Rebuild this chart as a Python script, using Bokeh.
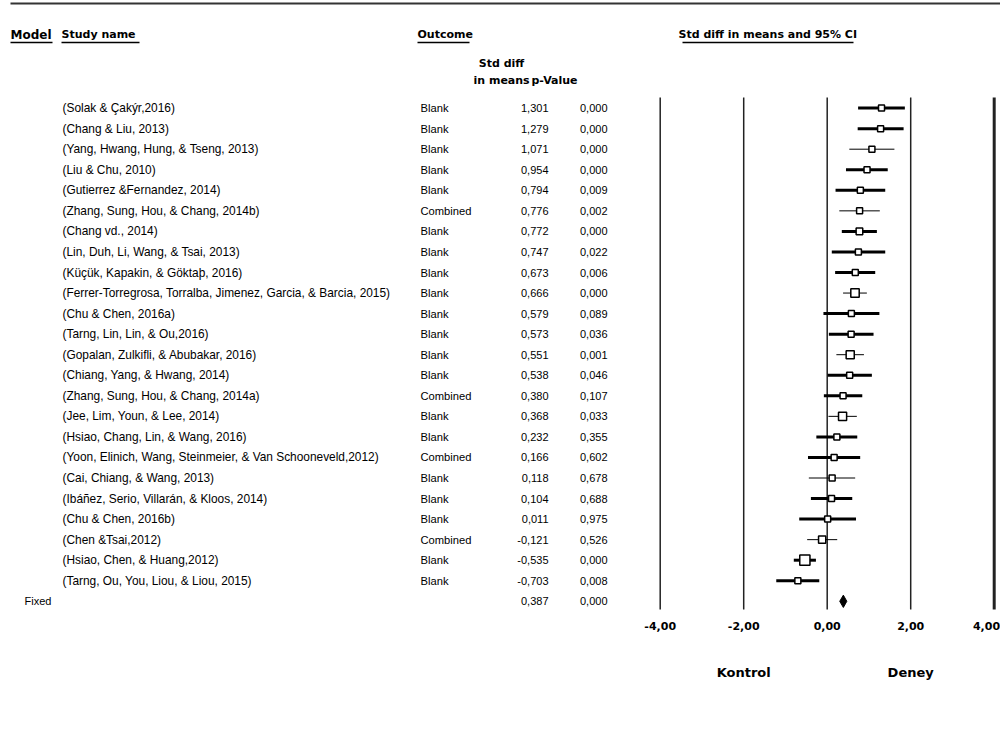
from bokeh.plotting import figure
from bokeh.models import Range1d
from bokeh.embed import file_html
from bokeh.resources import INLINE
from bokeh.core.properties import value

# ---------------- data ----------------
studies = [
    "(Solak & Çakýr,2016)",
    "(Chang & Liu, 2013)",
    "(Yang, Hwang, Hung, & Tseng, 2013)",
    "(Liu & Chu, 2010)",
    "(Gutierrez &Fernandez, 2014)",
    "(Zhang, Sung, Hou, & Chang, 2014b)",
    "(Chang vd., 2014)",
    "(Lin, Duh, Li, Wang, & Tsai, 2013)",
    "(Küçük, Kapakin, & Göktaþ, 2016)",
    "(Ferrer-Torregrosa, Torralba, Jimenez, Garcia, & Barcia, 2015)",
    "(Chu & Chen, 2016a)",
    "(Tarng, Lin,  Lin, & Ou,2016)",
    "(Gopalan, Zulkifli, & Abubakar, 2016)",
    "(Chiang, Yang, & Hwang, 2014)",
    "(Zhang, Sung, Hou, & Chang, 2014a)",
    "(Jee, Lim, Youn, & Lee, 2014)",
    "(Hsiao, Chang, Lin, & Wang, 2016)",
    "(Yoon, Elinich, Wang, Steinmeier, & Van Schooneveld,2012)",
    "(Cai, Chiang, & Wang, 2013)",
    "(Ibáñez, Serio, Villarán, & Kloos, 2014)",
    "(Chu & Chen, 2016b)",
    "(Chen &Tsai,2012)",
    "(Hsiao,  Chen, & Huang,2012)",
    "(Tarng, Ou, You, Liou, & Liou, 2015)",
]
outcomes = [
    "Blank", "Blank", "Blank", "Blank", "Blank", "Combined", "Blank", "Blank",
    "Blank", "Blank", "Blank", "Blank", "Blank", "Blank", "Combined", "Blank",
    "Blank", "Combined", "Blank", "Blank", "Blank", "Combined", "Blank", "Blank",
]
smd = [1.301, 1.279, 1.071, 0.954, 0.794, 0.776, 0.772, 0.747, 0.673, 0.666,
       0.579, 0.573, 0.551, 0.538, 0.380, 0.368, 0.232, 0.166, 0.118, 0.104,
       0.011, -0.121, -0.535, -0.703]
p_values = [0.000, 0.000, 0.000, 0.000, 0.009, 0.002, 0.000, 0.022, 0.006, 0.000,
            0.089, 0.036, 0.001, 0.046, 0.107, 0.033, 0.355, 0.602, 0.678, 0.688,
            0.975, 0.526, 0.000, 0.008]
ci_low = [0.74, 0.73, 0.53, 0.45, 0.20, 0.29, 0.35, 0.11, 0.19, 0.38,
          -0.09, 0.04, 0.22, 0.01, -0.08, 0.03, -0.26, -0.46, -0.44, -0.39,
          -0.67, -0.48, -0.80, -1.22]
ci_high = [1.86, 1.83, 1.61, 1.45, 1.39, 1.26, 1.19, 1.39, 1.15, 0.95,
           1.25, 1.11, 0.88, 1.07, 0.84, 0.71, 0.72, 0.79, 0.67, 0.60,
           0.69, 0.24, -0.27, -0.19]
rel_weight = [1.0, 1.0, 1.0, 1.0, 1.0, 1.0, 1.1, 1.0, 1.0, 1.4,
              1.0, 1.0, 1.35, 1.0, 1.0, 1.35, 1.0, 1.0, 1.0, 1.0,
              1.0, 1.2, 1.7, 1.0]
summary_label = "Fixed"
summary_smd = 0.387
summary_p = 0.000
summary_low = 0.30
summary_high = 0.47
axis_ticks = [-4, -2, 0, 2, 4]
left_label = "Kontrol"
right_label = "Deney"

# ---------------- style ----------------
thin_rows = {2, 5, 9, 12, 15, 18, 21}
ci_width = [1.0 if i in thin_rows else 3.0 for i in range(len(studies))]
box_size = [6 * w for w in rel_weight]
tick_widths = [1.5, 1.5, 1.5, 1.5, 3.0]
tick_align = ["center", "center", "center", "center", "right"]
tick_label_x_shift = [0, 0, 0, 0, -0.14]


def fmt3(v):
    return f"{v:.3f}".replace(".", ",")


def fmt2(v):
    return f"{v:.2f}".replace(".", ",")


W, H = 1000, 713
X0, PPU = 826.7, 41.75       # x of effect 0, px per unit
R0, RS = 107.6, 20.55        # y of first row, px per row

p = figure(width=W, height=H, output_backend="svg", toolbar_location=None,
           x_range=Range1d(0, W), y_range=Range1d(H, 0),
           x_axis_location=None, y_axis_location=None, min_border=0)
p.grid.visible = False
p.outline_line_color = None
p.extra_x_ranges = {"es": Range1d((0 - X0) / PPU, (W - X0) / PPU)}
p.extra_y_ranges = {"row": Range1d((H - R0) / RS, (0 - R0) / RS)}

body_font = value("Liberation Sans")
head_font = value("DejaVu Sans")
n = len(studies)
rows = list(range(n))

# top rule
p.segment(x0=[10], y0=[3], x1=[W], y1=[3], line_color="#333333", line_width=2)

# headers
heads = ["Model", "Study name", "Outcome", "Std diff in means and 95% CI"]
head_x = [10, 61, 417, 678]
p.text(x=head_x, y=[34] * 4, text=heads, text_font=head_font, text_font_style="bold",
       text_font_size=["12px", "11px", "11px", "11px"], text_baseline="middle",
       text_color="black")
p.segment(x0=[10, 61, 417, 682], y0=[42] * 4, x1=[52, 139, 469, 853], y1=[42] * 4,
          line_color="black", line_width=1.3)
p.text(x=[501], y=[63], text=["Std diff"], text_font=head_font, text_font_style="bold",
       text_font_size="11px", text_baseline="middle", text_align="center")
p.text(x=[473, 531], y=[80, 80], text=["in means", "p-Value"], text_font=head_font,
       text_font_style="bold", text_font_size="11px", text_baseline="middle")

# study rows
p.text(x=[62] * n, y=rows, text=studies, y_range_name="row", text_font=body_font,
       text_font_size="11.9px", text_baseline="middle")
p.text(x=[420] * n, y=rows, text=outcomes, y_range_name="row", text_font=body_font,
       text_font_size="11.2px", text_baseline="middle")
p.text(x=[548] * n, y=rows, text=[fmt3(v) for v in smd], y_range_name="row",
       text_font=body_font, text_font_size="11px", text_baseline="middle",
       text_align="right")
p.text(x=[607] * n, y=rows, text=[fmt3(v) for v in p_values], y_range_name="row",
       text_font=body_font, text_font_size="11px", text_baseline="middle",
       text_align="right")

# summary row
p.text(x=[24], y=[n], text=[summary_label], y_range_name="row", text_font=body_font,
       text_font_size="11px", text_baseline="middle")
p.text(x=[548, 607], y=[n, n], text=[fmt3(summary_smd), fmt3(summary_p)],
       y_range_name="row", text_font=body_font, text_font_size="11px",
       text_baseline="middle", text_align="right")

# reference lines
p.segment(x0=axis_ticks, y0=[97] * 5, x1=axis_ticks, y1=[609] * 5, x_range_name="es",
          line_color="#222222", line_width=tick_widths)
p.text(x=[t - s for t, s in zip(axis_ticks, tick_label_x_shift)], y=[625] * 5,
       text=[fmt2(v) for v in axis_ticks], x_range_name="es",
       text_font=head_font, text_font_style="bold", text_font_size="11px",
       text_align=tick_align, text_baseline="middle")
p.text(x=[-2, 2], y=[672, 672], text=[left_label, right_label], x_range_name="es",
       text_font=head_font, text_font_style="bold", text_font_size="13px",
       text_align="center", text_baseline="middle")

# forest
p.segment(x0=ci_low, y0=rows, x1=ci_high, y1=rows, x_range_name="es", y_range_name="row",
          line_color="black", line_width=ci_width)
p.scatter(x=smd, y=rows, size=box_size, marker="square", x_range_name="es",
          y_range_name="row", fill_color="white", line_color="black", line_width=1.5)
h = 0.3
p.patch(x=[summary_low, summary_smd, summary_high, summary_smd],
        y=[n, n - h, n, n + h], x_range_name="es", y_range_name="row",
        fill_color="black", line_color="black")

open("out.html", "w").write(file_html(p, INLINE))
